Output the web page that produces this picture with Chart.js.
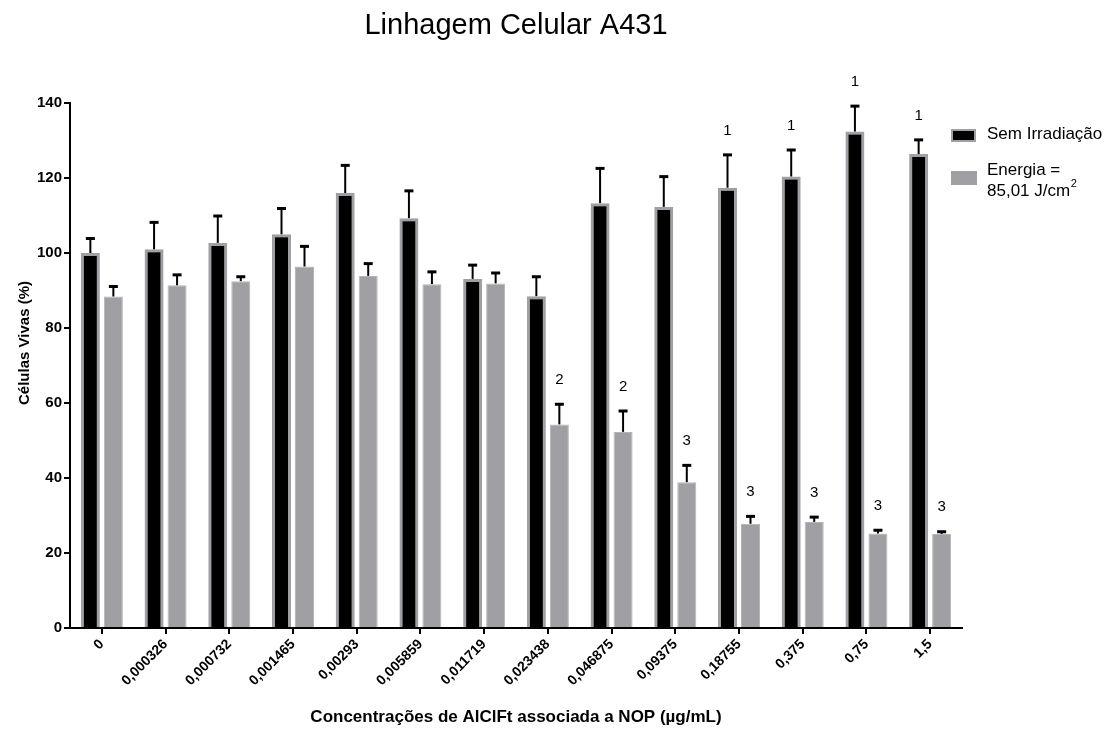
<!DOCTYPE html>
<html>
<head>
<meta charset="utf-8">
<script src="https://cdn.jsdelivr.net/npm/chart.js@4.4.1/dist/chart.umd.min.js"></script>
<style>
html,body{margin:0;padding:0;background:#fff;}
canvas{display:block;}
</style>
</head>
<body>
<canvas id="c" width="1107" height="729"></canvas>
<script>
const categories = ['0','0,000326','0,000732','0,001465','0,00293','0,005859','0,011719','0,023438','0,046875','0,09375','0,18755','0,375','0,75','1,5'];
const semIrradiacao = [100, 101, 102.7, 105, 116, 109.3, 93.1, 88.5, 113.3, 112.3, 117.4, 120.4, 132.4, 126.4];
const semIrradiacaoErr = [4, 7.3, 7.3, 7, 7.5, 7.4, 3.8, 5.3, 9.4, 8.2, 8.9, 7.2, 6.9, 3.9];
const energia = [88.4, 91.4, 92.5, 96.4, 93.9, 91.7, 91.9, 54.3, 52.3, 38.9, 27.8, 28.3, 25.2, 25.1];
const energiaErr = [2.8, 2.9, 1.3, 5.5, 3.4, 3.4, 2.9, 5.5, 5.7, 4.6, 2.1, 1.4, 1.0, 0.7];
const sigSem = ['','','','','','','','','','','1','1','1','1'];
const sigEnergia = ['','','','','','','','2','2','3','3','3','3','3'];
const yTicks = [0, 20, 40, 60, 80, 100, 120, 140];

const FONT = "'Liberation Sans', Arial, Helvetica, sans-serif";
const BLACK = '#000000';
const GRAY = '#a0a0a4';

const errorsList = [semIrradiacaoErr, energiaErr];
const sigList = [sigSem, sigEnergia];

const overlayPlugin = {
  id: 'overlay',
  afterDatasetsDraw(chart) {
    const ctx = chart.ctx;
    const y = chart.scales.y;
    ctx.save();
    chart.data.datasets.forEach((ds, di) => {
      const meta = chart.getDatasetMeta(di);
      meta.data.forEach((bar, i) => {
        const top = y.getPixelForValue(ds.data[i] + errorsList[di][i]);
        ctx.strokeStyle = '#000';
        ctx.lineWidth = 2;
        ctx.beginPath();
        ctx.moveTo(bar.x, bar.y);
        ctx.lineTo(bar.x, top);
        ctx.stroke();
        ctx.lineWidth = 3;
        ctx.beginPath();
        ctx.moveTo(bar.x - 4.5, top + 0.5);
        ctx.lineTo(bar.x + 4.5, top + 0.5);
        ctx.stroke();
        const s = sigList[di][i];
        if (s) {
          ctx.fillStyle = '#000';
          ctx.font = '15px ' + FONT;
          ctx.textAlign = 'center';
          ctx.textBaseline = 'middle';
          ctx.fillText(s, bar.x, top - 24);
        }
      });
    });
    ctx.restore();
  },
  afterDraw(chart) {
    const ctx = chart.ctx;
    ctx.save();
    // y axis title
    ctx.translate(25, 343);
    ctx.rotate(-Math.PI / 2);
    ctx.fillStyle = '#000';
    ctx.font = 'bold 15px ' + FONT;
    ctx.textAlign = 'center';
    ctx.textBaseline = 'middle';
    ctx.fillText('Células Vivas (%)', 0, 0);
    ctx.restore();

    // legend
    ctx.save();
    ctx.fillStyle = GRAY;
    ctx.fillRect(951, 129, 25, 13);
    ctx.fillStyle = BLACK;
    ctx.fillRect(953, 131, 21, 9);
    ctx.fillStyle = GRAY;
    ctx.fillRect(951, 171, 26, 14);
    ctx.fillStyle = '#000';
    ctx.font = '17px ' + FONT;
    ctx.textAlign = 'left';
    ctx.textBaseline = 'middle';
    ctx.fillText('Sem Irradiação', 987, 134);
    ctx.fillText('Energia =', 987, 170);
    const base = '85,01 J/cm';
    ctx.fillText(base, 987, 191);
    const w = ctx.measureText(base).width;
    ctx.font = '11px ' + FONT;
    ctx.fillText('2', 987 + w + 0.5, 184);
    ctx.restore();
  }
};

new Chart(document.getElementById('c'), {
  type: 'bar',
  data: {
    labels: categories,
    datasets: [
      {
        label: 'Sem Irradiação',
        data: semIrradiacao,
        backgroundColor: BLACK,
        borderColor: GRAY,
        borderWidth: 3,
        borderSkipped: 'start',
        categoryPercentage: 0.722,
        barPercentage: 0.826
      },
      {
        label: 'Energia = 85,01 J/cm²',
        data: energia,
        backgroundColor: GRAY,
        borderColor: '#b4b4b8',
        borderWidth: 1,
        borderSkipped: 'start',
        categoryPercentage: 0.722,
        barPercentage: 0.826
      }
    ]
  },
  options: {
    responsive: false,
    animation: false,
    events: [],
    layout: { padding: { top: 0, left: 0, right: 145, bottom: 0 } },
    plugins: {
      legend: { display: false },
      tooltip: { enabled: false },
      title: {
        display: true,
        fullSize: false,
        text: 'Linhagem Celular A431',
        color: '#000',
        font: { family: FONT, size: 29, weight: 'normal', lineHeight: 1.2 },
        padding: { top: 9, bottom: 59.2 }
      }
    },
    scales: {
      x: {
        grid: { display: true, drawOnChartArea: false, drawTicks: true, offset: false, tickLength: 6, color: '#000', lineWidth: 2 },
        border: { display: true, color: '#000', width: 2 },
        ticks: {
          color: '#000',
          font: { family: FONT, size: 14, weight: 'bold' },
          minRotation: 45,
          maxRotation: 45,
          autoSkip: false,
          padding: 2
        },
        title: {
          display: true,
          text: 'Concentrações de AlClFt associada a NOP (µg/mL)',
          color: '#000',
          font: { family: FONT, size: 17, weight: 'bold' },
          padding: { top: 4, bottom: 1 }
        },
        afterFit(scale) { scale.height = 101; }
      },
      y: {
        min: 0,
        max: 140,
        afterBuildTicks(scale) { scale.ticks = yTicks.map(v => ({ value: v })); },
        grid: { display: true, drawOnChartArea: false, drawTicks: true, tickLength: 6, color: '#000', lineWidth: 2 },
        border: { display: true, color: '#000', width: 2 },
        ticks: {
          color: '#000',
          font: { family: FONT, size: 15, weight: 'bold' },
          padding: 2
        },
        afterFit(scale) { scale.width = 70; }
      }
    }
  },
  plugins: [overlayPlugin]
});
</script>
</body>
</html>
